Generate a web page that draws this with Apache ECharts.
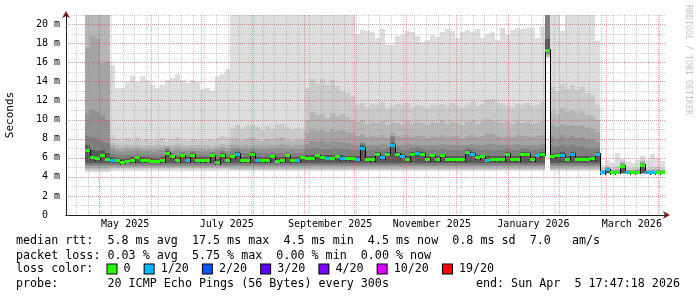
<!DOCTYPE html>
<html><head><meta charset="utf-8">
<script src="https://cdn.jsdelivr.net/npm/echarts@6/dist/echarts.min.js"></script>
<style>html,body{margin:0;padding:0;background:#fff}#c{width:697px;height:297px}</style>
</head><body><div id="c"></div>
<script>
// ---------- time frame ----------
const DAY = 86400000;
const STEP = 3 * DAY;                              // one sample every 3 days
const firstSample = Date.UTC(2025, 3, 22, 10, 6, 0);
const axisStart = Date.UTC(2025, 3, 11, 0, 30, 0);
const axisEnd = axisStart + 360 * DAY;

// ---------- axis ticks / labels ----------
const monthStarts = ['2025-05-01','2025-06-01','2025-07-01','2025-08-01','2025-09-01','2025-10-01','2025-11-01','2025-12-01','2026-01-01','2026-02-01','2026-03-01','2026-04-01'];
const weekLines = ['2025-04-17','2025-04-24','2025-05-01','2025-05-08','2025-05-15','2025-05-22','2025-05-29','2025-06-05','2025-06-12','2025-06-19','2025-06-26','2025-07-03','2025-07-10','2025-07-17','2025-07-24','2025-07-31','2025-08-07','2025-08-14','2025-08-21','2025-08-28','2025-09-04','2025-09-11','2025-09-18','2025-09-25','2025-10-02','2025-10-09','2025-10-16','2025-10-23','2025-10-30','2025-11-06','2025-11-13','2025-11-20','2025-11-27','2025-12-04','2025-12-11','2025-12-18','2025-12-25','2026-01-01','2026-01-08','2026-01-15','2026-01-22','2026-01-29','2026-02-05','2026-02-12','2026-02-19','2026-02-26','2026-03-05','2026-03-12','2026-03-19','2026-03-26','2026-04-02'];
const labelDates = ['2025-05-16T12:00:00Z','2025-07-16T12:00:00Z','2025-09-16T12:00:00Z','2025-11-16T12:00:00Z','2026-01-16T12:00:00Z','2026-03-16T12:00:00Z'];
const labelTexts = ['May 2025','July 2025','September 2025','November 2025','January 2026','March 2026'];
const yMax = 21;

// ---------- smoke (sorted ping percentiles, ms) ----------
const maxPing = [
 25,25,25,25,25,
 15.7,13.3,13.3,14.0,14.6,14.0,14.6,14.2,13.6,13.3,13.6,14.2,14.4,14.8,14.2,13.9,14.2,14.0,13.2,13.3,13.0,14.6,14.8,15.3,
 25,25,25,25,25,25,25,25,25,25,25,25,25,25,25,
 25,25,25,25,25,25,25,25,25,25,
 19.0,19.4,19.3,19.2,18.6,19.5,17.8,17.8,18.8,18.9,19.3,19.2,18.8,18.2,18.4,18.9,18.7,19.2,19.5,19.3,
 18.6,19.2,19.4,19.2,19.5,18.6,19.0,19.2,18.4,19.6,18.9,19.4,19.6,19.5,19.6,19.6,18.6,19.7,
 25,25,25,19.3,25,25,25,25,25,25,18.3,
 5.3,5.8,5.5,6.5,5.9,5.6,5.5,5.8,6.2,5.8,6.4,5.9,5.7];
const ping19 = [
 25,25,25,25,25,
 8.4,8.0,7.8,8.1,7.9,8.2,7.9,8.0,7.8,7.9,8.1,7.8,8.0,8.2,7.9,7.8,8.0,7.9,7.8,8.0,7.9,8.1,8.3,8.2,
 9.1,9.4,9.0,9.3,9.5,9.2,8.9,9.3,9.0,9.4,9.6,9.2,8.9,9.1,9.0,
 13.3,14.3,13.8,14.3,13.6,14.2,13.5,13.0,12.8,12.5,
 11.6,11.8,11.3,11.7,11.5,11.9,11.2,11.4,11.7,11.5,11.8,11.3,11.6,11.4,11.2,11.6,11.5,11.7,11.4,11.8,
 11.5,11.3,11.6,11.9,11.4,11.7,12.1,12.2,11.8,11.5,11.6,11.3,11.7,11.5,11.8,11.4,11.6,11.9,
 25,13.4,13.0,13.8,13.2,13.6,13.1,13.4,12.8,12.6,11.5,
 4.9,5.1,4.9,5.1,5.7,4.9,4.9,5.0,5.8,4.9,5.0,5.0,4.9];
const ping18 = [
 25,25,25,25,25,
 7.6,7.3,7.2,7.4,7.3,7.4,7.2,7.3,7.2,7.3,7.4,7.2,7.3,7.5,7.3,7.2,7.4,7.3,7.2,7.3,7.2,7.3,7.5,7.4,
 7.9,8.1,7.8,8.0,8.2,7.9,7.8,8.0,7.9,8.1,8.2,7.9,7.8,7.9,7.9,
 10.0,10.8,10.5,10.6,10.2,10.7,10.4,10.6,10.3,10.0,
 9.8,10.0,9.6,9.8,9.7,9.9,9.5,9.8,9.7,9.6,9.9,9.6,9.8,9.7,9.5,9.8,9.7,9.9,9.6,9.8,
 9.7,9.5,9.8,9.9,9.6,9.8,10.1,10.0,9.8,9.7,9.8,9.6,9.9,9.7,9.8,9.6,9.7,9.9,
 25,10.9,10.6,11.2,10.8,11.0,10.7,10.9,10.5,10.4,10.0,
 4.75,5.05,4.75,4.85,5.6,4.75,4.75,4.8,5.7,4.75,4.8,4.8,4.75];
const ping17 = [
 17.5,18.8,18.5,16.0,16.2,
 7.2,6.9,6.9,7.0,6.9,7.0,6.9,6.9,6.9,6.9,7.0,7.2,6.9,7.1,6.9,6.9,7.0,6.9,6.9,6.9,6.9,7.0,7.1,7.0,
 7.3,7.4,7.2,7.3,7.4,7.3,7.2,7.3,7.3,7.4,7.5,7.3,7.2,7.3,7.3,
 8.6,9.0,8.8,8.9,8.7,9.0,8.8,8.9,8.7,8.6,
 8.3,8.5,8.2,8.3,8.2,8.4,8.1,8.6,8.3,8.2,8.4,8.2,8.3,8.3,8.1,8.3,8.2,8.4,8.2,8.3,
 8.3,8.1,8.3,8.4,8.2,8.3,8.5,8.5,8.3,8.2,8.3,8.2,8.4,8.3,8.3,8.2,8.3,8.4,
 25,9.4,9.2,9.6,9.3,9.5,9.3,9.4,9.1,9.0,8.7,
 4.7,5.0,4.7,4.75,5.5,4.7,4.7,4.75,5.6,4.7,4.7,4.75,4.7];
const ping16 = [
 10.6,11.0,10.8,10.5,10.0,
 6.9,6.7,6.6,6.7,6.7,6.8,6.7,6.7,6.6,6.7,6.8,7.0,6.7,6.8,6.7,6.7,6.7,6.7,6.6,6.7,6.6,6.8,6.8,6.7,
 7.0,7.0,6.9,6.9,7.0,6.9,6.9,6.9,6.9,7.0,7.0,6.9,6.9,6.9,6.9,
 7.5,7.8,7.7,7.8,7.6,7.8,7.7,7.7,7.6,7.5,
 7.4,7.6,7.3,7.4,7.4,7.5,7.4,8.3,7.4,7.4,7.5,7.3,7.4,7.4,7.3,7.4,7.3,7.5,7.3,7.4,
 7.4,7.3,7.4,7.5,7.3,7.4,7.5,7.5,7.4,7.3,7.4,7.3,7.5,7.4,7.4,7.3,7.4,7.5,
 25,8.2,8.0,8.4,8.1,8.3,8.1,8.2,8.0,7.9,7.7,
 4.65,4.95,4.65,4.7,5.4,4.65,4.65,4.7,5.5,4.65,4.65,4.7,4.65];
const ping15 = [
 8.3,8.2,8.0,7.8,7.6,
 6.4,6.3,6.3,6.3,6.3,6.4,6.3,6.3,6.3,6.3,6.3,6.9,6.5,6.3,6.6,6.3,6.7,6.3,6.3,6.3,6.6,6.3,6.7,6.4,
 6.6,6.8,6.5,6.5,6.8,6.5,6.5,6.5,6.6,6.5,6.5,6.6,6.5,6.5,6.5,
 6.9,7.0,7.0,6.9,6.9,6.9,7.0,6.9,6.9,6.8,
 6.8,7.6,6.8,6.8,7.0,6.8,7.0,8.2,7.0,6.8,6.8,7.0,7.1,7.0,6.8,6.9,6.8,6.9,6.8,6.8,
 6.8,6.8,7.1,7.0,6.8,6.8,6.8,6.8,6.8,6.8,7.0,6.8,6.8,7.0,7.0,6.8,6.9,7.0,
 21.0,7.2,7.1,7.3,7.1,7.3,7.1,7.2,7.0,6.9,7.0,
 4.6,4.9,4.6,4.6,5.3,4.6,4.6,4.6,5.4,4.6,4.6,4.6,4.6];
const ping13 = [
 7.3,6.8,6.7,6.8,6.5,
 6.1,6.0,5.9,6.0,6.05,6.2,6.05,6.05,6.0,6.0,6.05,6.7,6.3,6.05,6.4,6.05,6.5,6.05,6.05,6.05,6.4,5.9,6.5,6.05,
 6.3,6.6,6.1,6.1,6.6,6.1,6.1,6.1,6.3,6.05,6.1,6.4,6.1,6.1,6.2,
 6.3,6.3,6.4,6.3,6.3,6.3,6.3,6.25,6.2,6.2,
 6.2,7.3,6.2,6.2,6.6,6.3,6.6,7.6,6.6,6.4,6.2,6.6,6.7,6.6,6.2,6.4,6.2,6.4,6.2,6.2,
 6.2,6.2,6.8,6.6,6.3,6.3,6.2,6.2,6.2,6.2,6.6,6.2,6.2,6.6,6.6,6.2,6.4,6.6,
 18.5,6.4,6.5,6.6,6.2,6.6,6.2,6.2,6.2,6.2,6.6,
 4.55,4.85,4.55,4.55,5.2,4.55,4.55,4.55,5.3,4.55,4.55,4.55,4.55];
const ping1 = [
 4.5,4.5,4.5,4.5,4.5,
 4.65,4.65,4.65,4.65,4.65,4.65,4.65,4.65,4.65,4.65,4.65,4.65,4.65,4.65,4.65,4.65,4.65,4.65,4.65,4.65,4.65,4.65,4.65,4.65,
 4.6,4.6,4.6,4.6,4.6,4.6,4.6,4.6,4.6,4.6,4.6,4.6,4.6,4.6,4.6,4.6,4.6,4.6,4.6,4.6,4.6,
 4.6,4.6,4.6,4.6,4.6,4.6,4.6,4.6,4.6,4.6,4.6,4.6,4.6,4.6,4.6,4.6,4.6,4.6,4.6,4.6,4.6,
 4.6,4.6,4.6,4.6,4.6,4.6,4.6,4.6,4.6,4.6,4.6,4.6,4.6,4.6,4.6,4.6,4.6,4.6,4.6,4.6,4.6,
 16.5,4.6,4.6,4.6,4.6,4.6,4.6,4.6,4.6,4.6,4.6,
 4.3,4.3,4.3,4.3,4.3,4.3,4.3,4.3,4.3,4.3,4.3,4.3,4.3];
const ping2 = [
 4.65,4.65,4.65,4.65,4.65,
 4.8,4.8,4.8,4.8,4.8,4.8,4.8,4.8,4.8,4.8,4.8,4.8,4.8,4.8,4.8,4.8,4.8,4.8,4.8,4.8,4.8,4.8,4.8,4.8,
 4.75,4.75,4.75,4.75,4.75,4.75,4.75,4.75,4.75,4.75,4.75,4.75,4.75,4.75,4.75,4.75,4.75,4.75,4.75,4.75,4.75,
 4.75,4.75,4.75,4.75,4.75,4.75,4.75,4.75,4.75,4.75,4.75,4.75,4.75,4.75,4.75,4.75,4.75,4.75,4.75,4.75,4.75,
 4.75,4.75,4.75,4.75,4.75,4.75,4.75,4.75,4.75,4.75,4.75,4.75,4.75,4.75,4.75,4.75,4.75,4.75,4.75,4.75,4.75,
 16.6,4.75,4.75,4.75,4.75,4.75,4.75,4.75,4.75,4.75,4.75,
 4.32,4.32,4.32,4.32,4.32,4.32,4.32,4.32,4.32,4.32,4.32,4.32,4.32];
const ping3 = [
 4.8,4.8,4.8,4.8,4.8,
 4.9,4.9,4.9,4.9,4.9,4.9,4.9,4.9,4.9,4.9,4.9,4.9,4.9,4.9,4.9,4.9,4.9,4.9,4.9,4.9,4.9,4.9,4.9,4.9,
 4.88,4.88,4.88,4.88,4.88,4.88,4.88,4.88,4.88,4.88,4.88,4.88,4.88,4.88,4.88,4.88,4.88,4.88,4.88,4.88,4.88,
 4.88,4.88,4.88,4.88,4.88,4.88,4.88,4.88,4.88,4.88,4.88,4.88,4.88,4.88,4.88,4.88,4.88,4.88,4.88,4.88,4.88,
 4.88,4.88,4.88,4.88,4.88,4.88,4.88,4.88,4.88,4.88,4.88,4.88,4.88,4.88,4.88,4.88,4.88,4.88,4.88,4.88,4.88,
 16.7,4.88,4.88,4.88,4.88,4.88,4.88,4.88,4.88,4.88,4.88,
 4.34,4.34,4.34,4.34,4.34,4.34,4.34,4.34,4.34,4.34,4.34,4.34,4.34];
const ping4 = [
 4.95,4.95,4.95,4.95,4.95,
 5.0,5.0,5.0,5.0,5.0,5.0,5.0,5.0,5.0,5.0,5.0,5.0,5.0,5.0,5.0,5.0,5.0,5.0,5.0,5.0,5.0,5.0,5.0,5.0,
 5.0,5.0,5.0,5.0,5.0,5.0,5.0,5.0,5.0,5.0,5.0,5.0,5.0,5.0,5.0,5.0,5.0,5.0,5.0,5.0,5.0,
 5.0,5.0,5.0,5.0,5.0,5.0,5.0,5.0,5.0,5.0,5.0,5.0,5.0,5.0,5.0,5.0,5.0,5.0,5.0,5.0,5.0,
 5.0,5.0,5.0,5.0,5.0,5.0,5.0,5.0,5.0,5.0,5.0,5.0,5.0,5.0,5.0,5.0,5.0,5.0,5.0,5.0,5.0,
 16.8,5.0,5.0,5.0,5.0,5.0,5.0,5.0,5.0,5.0,5.0,
 4.36,4.36,4.36,4.36,4.36,4.36,4.36,4.36,4.36,4.36,4.36,4.36,4.36];
const ping5 = [
 5.1,5.1,5.1,5.1,5.1,
 5.1,5.1,5.1,5.1,5.1,5.1,5.1,5.1,5.1,5.1,5.1,5.1,5.1,5.1,5.1,5.1,5.1,5.1,5.1,5.1,5.1,5.1,5.1,5.1,
 5.12,5.12,5.12,5.12,5.12,5.12,5.12,5.12,5.12,5.12,5.12,5.12,5.12,5.12,5.12,5.12,5.12,5.12,5.12,5.12,5.12,
 5.12,5.12,5.12,5.12,5.12,5.12,5.12,5.12,5.12,5.12,5.12,5.12,5.12,5.12,5.12,5.12,5.12,5.12,5.12,5.12,5.12,
 5.12,5.12,5.12,5.12,5.12,5.12,5.12,5.12,5.12,5.12,5.12,5.12,5.12,5.12,5.12,5.12,5.12,5.12,5.12,5.12,5.12,
 16.9,5.12,5.12,5.12,5.12,5.12,5.12,5.12,5.12,5.12,5.12,
 4.38,4.38,4.38,4.38,4.38,4.38,4.38,4.38,4.38,4.38,4.38,4.38,4.38];
const ping6 = [
 5.25,5.25,5.25,5.25,5.25,
 5.25,5.25,5.25,5.25,5.25,5.25,5.25,5.25,5.25,5.25,5.25,5.25,5.25,5.25,5.25,5.25,5.25,5.25,5.25,5.25,5.25,5.25,5.25,5.25,
 5.28,5.28,5.28,5.28,5.28,5.28,5.28,5.28,5.28,5.28,5.28,5.28,5.28,5.28,5.28,5.28,5.28,5.28,5.28,5.28,5.28,
 5.28,5.28,5.28,5.28,5.28,5.28,5.28,5.28,5.28,5.28,5.28,5.28,5.28,5.28,5.28,5.28,5.28,5.28,5.28,5.28,5.28,
 5.28,5.28,5.28,5.28,5.28,5.28,5.28,5.28,5.28,5.28,5.28,5.28,5.28,5.28,5.28,5.28,5.28,5.28,5.28,5.28,5.28,
 17.0,5.28,5.28,5.28,5.28,5.28,5.28,5.28,5.28,5.28,5.28,
 4.4,4.4,4.4,4.4,4.4,4.4,4.4,4.4,4.4,4.4,4.4,4.4,4.4];
const ping8 = [
 5.45,5.45,5.45,5.45,5.45,
 5.42,5.42,5.42,5.42,5.42,5.42,5.42,5.42,5.42,5.42,5.42,5.42,5.42,5.42,5.42,5.42,5.42,5.42,5.42,5.42,5.42,5.42,5.42,5.42,
 5.5,5.5,5.5,5.5,5.5,5.5,5.5,5.5,5.5,5.5,5.5,5.5,5.5,5.5,5.5,5.5,5.5,5.5,5.5,5.5,5.5,
 5.5,5.5,5.5,5.5,5.5,5.5,5.5,5.5,5.5,5.5,5.5,5.5,5.5,5.5,5.5,5.5,5.5,5.5,5.5,5.5,5.5,
 5.5,5.5,5.5,5.5,5.5,5.5,5.5,5.5,5.5,5.5,5.5,5.5,5.5,5.5,5.5,5.5,5.5,5.5,5.5,5.5,5.5,
 17.1,5.5,5.5,5.5,5.5,5.5,5.5,5.5,5.5,5.5,5.5,
 4.42,4.42,4.42,4.42,4.42,4.42,4.42,4.42,4.42,4.42,4.42,4.42,4.42];

// ---------- median rtt (ms) and packet loss (pings lost out of 20) ----------
const medianRtt = [
 6.8,6.0,5.9,6.3,5.85,
 5.75,5.7,5.5,5.65,5.7,6.0,5.7,5.7,5.65,5.65,5.7,6.5,6.1,5.7,6.2,5.7,6.3,5.7,5.7,5.7,6.2,5.5,6.3,5.7,
 6.1,6.4,5.7,5.7,6.4,5.7,5.7,5.7,6.1,5.65,5.7,6.2,5.7,5.75,6.0,
 5.95,5.95,6.2,6.0,5.95,5.95,6.1,5.9,5.9,5.9,
 5.85,7.0,5.8,5.8,6.4,6.0,6.4,7.3,6.4,6.1,5.8,6.4,6.5,6.4,5.8,6.2,5.8,6.2,5.8,5.8,
 5.8,5.8,6.6,6.4,6.0,6.1,5.75,5.8,5.8,5.8,6.4,5.8,5.8,6.4,6.4,5.8,6.2,6.4,
 17.3,6.1,6.2,6.3,5.85,6.4,5.85,5.85,5.85,5.9,6.4,
 4.45,4.75,4.45,4.45,5.1,4.45,4.45,4.45,5.2,4.45,4.45,4.45,4.45];
const lossCount = [
 0,0,0,0,0,
 1,0,0,0,0,0,0,0,0,0,0,0,0,0,0,1,0,0,0,0,0,0,0,0,
 0,1,0,0,0,1,0,0,0,0,0,0,0,1,0,
 0,0,0,0,1,0,0,1,0,0,
 1,1,0,0,0,1,0,1,0,1,0,0,1,0,0,0,0,0,0,0,
 0,0,0,1,0,0,1,0,0,0,0,0,0,0,0,0,1,0,
 0,0,0,1,0,1,0,0,0,0,1,
 1,1,0,0,0,1,0,0,0,1,1,0,0];

// ---------- legend ----------
const lossSteps = [0, 1, 2, 3, 4, 10, 19];
const lossLabels = ['0', '1/20', '2/20', '3/20', '4/20', '10/20', '19/20'];
const rttLine = 'median rtt:  5.8 ms avg  17.5 ms max  4.5 ms min  4.5 ms now  0.8 ms sd  7.0   am/s';
const lossLine = 'packet loss: 0.03 % avg  5.75 % max  0.00 % min  0.00 % now';
const probeLine = 'probe:       20 ICMP Echo Pings (56 Bytes) every 300s';
const endLine = 'end: Sun Apr  5 17:47:18 2026';

// ---------- styles ----------
const lossColors = ['#26ff00', '#00b8ff', '#0059ff', '#5e00ff', '#7e00ff', '#dd00ff', '#ff0000'];
const MONO = 'DejaVu Sans Mono';
const bands = [
  [ping1, maxPing, '#dddddd'],
  [ping2, ping19, '#cacaca'],
  [ping3, ping18, '#b7b7b7'],
  [ping4, ping17, '#a4a4a4'],
  [ping5, ping16, '#919191'],
  [ping6, ping15, '#7e7e7e'],
  [ping8, ping13, '#585858']
];
const N = medianRtt.length;
[maxPing, ping19, ping18, ping17, ping16, ping15, ping13, ping1, ping2, ping3, ping4, ping5, ping6, ping8, lossCount].forEach((a, k) => {
  if (a.length !== N) throw new Error('array ' + k + ' length ' + a.length + ' != ' + N);
});
function lossColor(l) {
  let c = lossColors[0];
  for (let k = 0; k < lossSteps.length; k++) if (l >= lossSteps[k]) c = lossColors[k];
  return c;
}
const sampleTime = i => firstSample + i * STEP;

const smokeData = medianRtt.map((_, i) => {
  const row = [sampleTime(i)];
  bands.forEach(b => { row.push(b[0][i], b[1][i]); });
  return row;
});
const medianData = medianRtt.map((m, i) => [sampleTime(i), m, lossCount[i]]);

function smokeItem(params, api) {
  const t = api.value(0);
  const children = [];
  for (let k = 0; k < bands.length; k++) {
    const lo = api.value(1 + 2 * k), hi = api.value(2 + 2 * k);
    const a = api.coord([t, lo]), b = api.coord([t + STEP, hi]);
    const x1 = Math.round(a[0]), x2 = Math.round(b[0]);
    const yTop = Math.round(b[1]), yBot = Math.round(a[1]);
    children.push({type: 'rect', shape: {x: x1, y: yTop, width: x2 - x1, height: yBot - yTop}, style: {fill: bands[k][2]}});
  }
  return {type: 'group', children};
}
function medianItem(params, api) {
  const i = params.dataIndex;
  const t = api.value(0), m = api.value(1), l = api.value(2);
  const a = api.coord([t, m]), b = api.coord([t + STEP, m]);
  const x1 = Math.round(a[0]), x2 = Math.round(b[0]);
  const children = [];
  if (i > 0) {
    const p = api.coord([t, medianRtt[i - 1]]);
    const y1 = Math.min(p[1], a[1]), y2 = Math.max(p[1], a[1]);
    children.push({type: 'rect', shape: {x: x1, y: Math.round(y1) - 1, width: 1, height: Math.round(y2 - y1) + 3}, style: {fill: '#000'}});
  }
  children.push({type: 'rect', shape: {x: x1, y: Math.round(a[1] - 1.5), width: x2 - x1, height: 3}, style: {fill: lossColor(l)}});
  return {type: 'group', children};
}
function vLine(color) {
  return function (params, api) {
    const t = api.value(0);
    const top = api.coord([t, yMax]), bot = api.coord([t, 0]);
    const x = Math.round(top[0]) + 0.5;
    return {type: 'line', shape: {x1: x, y1: top[1], x2: x, y2: bot[1]}, style: {stroke: color, lineWidth: 1, lineDash: [1, 1]}};
  };
}
const labelTimes = labelDates.map(d => Date.parse(d));
function xLabel(v) {
  let best = 0;
  labelTimes.forEach((lt, k) => { if (Math.abs(lt - v) < Math.abs(labelTimes[best] - v)) best = k; });
  return labelTexts[best];
}

const chart = echarts.init(document.getElementById('c'), null, {renderer: 'canvas'});
chart.setOption({
  animation: false,
  backgroundColor: '#ffffff',
  grid: {left: 66, top: 15, width: 600, height: 200, containLabel: false, outerBoundsMode: 'none'},
  xAxis: [
    {type: 'value', min: axisStart, max: axisEnd, position: 'bottom', z: 5,
     axisLine: {show: true, onZero: false, lineStyle: {color: '#1f1f1f', width: 1}},
     axisTick: {show: false}, splitLine: {show: false},
     axisLabel: {show: true, customValues: labelTimes, formatter: xLabel, margin: 4,
                 fontFamily: MONO, fontSize: 10, color: '#000', hideOverlap: false}},
    {type: 'value', min: 0, max: 1, position: 'bottom', z: 4,
     axisLine: {show: true, onZero: false, symbol: ['none', 'arrow'], symbolSize: [6, 7], symbolOffset: [0, 4],
                lineStyle: {color: '#7f1f1f', width: 1}},
     axisTick: {show: false}, axisLabel: {show: false}, splitLine: {show: false}}
  ],
  yAxis: [
    {type: 'value', min: 0, max: yMax, interval: 2, position: 'left', z: 5,
     name: 'Seconds', nameLocation: 'middle', nameGap: 50, nameRotate: 90,
     nameTextStyle: {fontFamily: MONO, fontSize: 11, color: '#000'},
     axisLine: {show: true, onZero: false, lineStyle: {color: '#1f1f1f', width: 1}},
     axisTick: {show: false},
     axisLabel: {formatter: v => (v === 0 ? '0  ' : v + ' m'), margin: 6, fontFamily: MONO, fontSize: 10, color: '#000', showMaxLabel: false},
     splitLine: {show: true, showMinLine: false, showMaxLine: false, lineStyle: {color: 'rgba(222,48,47,0.34)', width: 1, type: [1, 1]}}},
    {type: 'value', min: 0, max: yMax, interval: 1, position: 'left', z: 3,
     axisLine: {show: false}, axisTick: {show: false}, axisLabel: {show: false},
     splitLine: {show: true, showMinLine: false, lineStyle: {color: 'rgba(143,143,143,0.4)', width: 1, type: [1, 1]}}},
    {type: 'value', min: 0, max: 1, position: 'left', z: 4,
     axisLine: {show: true, onZero: false, symbol: ['none', 'arrow'], symbolSize: [6, 7], symbolOffset: [0, 4],
                lineStyle: {color: '#7f1f1f', width: 1}},
     axisTick: {show: false}, axisLabel: {show: false}, splitLine: {show: false}}
  ],
  series: [
    {type: 'custom', name: 'smoke', xAxisIndex: 0, yAxisIndex: 0, z: 1, clip: true, silent: true,
     renderItem: smokeItem, encode: {x: 0, y: [1, 2]}, data: smokeData},
    {type: 'custom', name: 'weeks', xAxisIndex: 0, yAxisIndex: 0, z: 3, silent: true,
     renderItem: vLine('rgba(143,143,143,0.4)'), encode: {x: 0}, data: weekLines.map(d => [Date.parse(d)])},
    {type: 'custom', name: 'months', xAxisIndex: 0, yAxisIndex: 0, z: 4, silent: true,
     renderItem: vLine('rgba(222,48,47,0.4)'), encode: {x: 0}, data: monthStarts.map(d => [Date.parse(d)])},
    {type: 'custom', name: 'median', xAxisIndex: 0, yAxisIndex: 0, z: 6, clip: true, silent: true,
     renderItem: medianItem, encode: {x: 0, y: 1}, data: medianData}
  ],
  graphic: [
    {type: 'text', x: 16, y: 241, silent: true, style: {text: rttLine, fontFamily: MONO, fontSize: 11.7, fill: '#000', verticalAlign: 'middle'}},
    {type: 'text', x: 16, y: 256, silent: true, style: {text: lossLine, fontFamily: MONO, fontSize: 11.7, fill: '#000', verticalAlign: 'middle'}},
    {type: 'text', x: 16, y: 269, silent: true, style: {
      text: 'loss color:  ' + lossLabels.map((lab, k) => '{c' + k + '| } ' + lab).join('  '),
      fontFamily: MONO, fontSize: 11.7, fill: '#000', verticalAlign: 'middle',
      rich: Object.fromEntries(lossColors.map((c, k) => ['c' + k, {width: 9, height: 9, backgroundColor: c, borderColor: '#000', borderWidth: 1}]))}},
    {type: 'text', x: 16, y: 284, silent: true, style: {text: probeLine, fontFamily: MONO, fontSize: 11.7, fill: '#000', verticalAlign: 'middle'}},
    {type: 'text', x: 680, y: 284, silent: true, style: {text: endLine, fontFamily: MONO, fontSize: 11.7, fill: '#000', align: 'right', verticalAlign: 'middle'}},
    {type: 'text', x: 688, y: 60, rotation: -Math.PI / 2, silent: true, style: {text: 'RRDTOOL / TOBI OETIKER', fontFamily: MONO, fontSize: 8.3, fill: '#c4c4c4', align: 'center', verticalAlign: 'middle'}}
  ]
});
</script></body></html>
